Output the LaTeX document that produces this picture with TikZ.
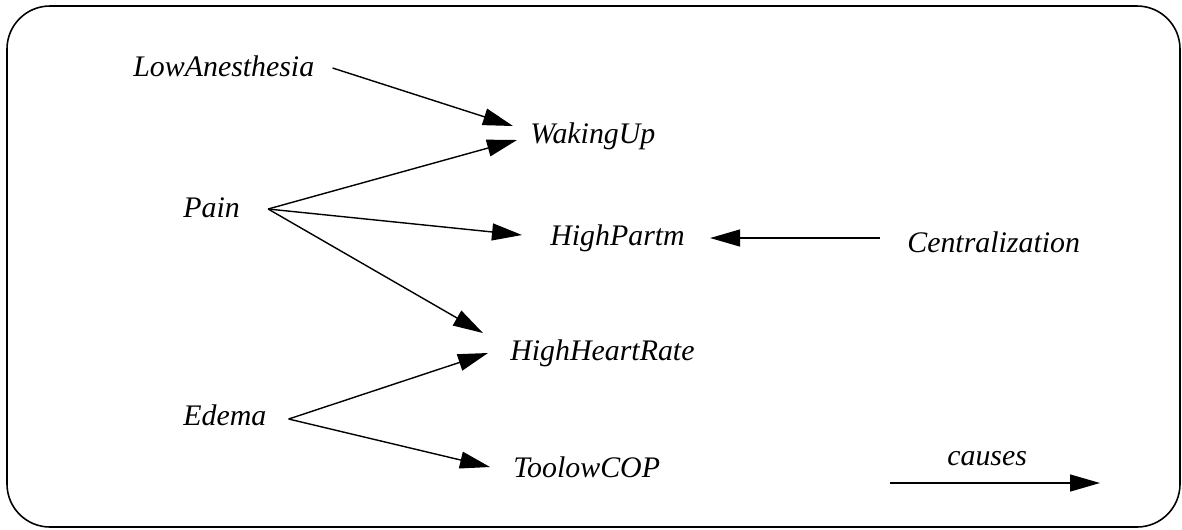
\documentclass[tikz,border=0pt]{standalone}
\usepackage{fontspec}
\setmainfont{Liberation Serif}
\usepackage{tikz}
\usetikzlibrary{arrows.meta}

\begin{document}
\begin{tikzpicture}[
    x=0.02cm, y=-0.02cm,
    label/.style={
        anchor=base west,
        inner sep=0pt,
        font=\fontsize{17}{20}\selectfont\itshape
    },
    frame/.style={draw, line width=0.9pt, rounded corners=0.86cm},
    causearrow/.style={-{Triangle[length=6mm, width=3.4mm]}, line width=0.8pt}
]
    \useasboundingbox (0,0) rectangle (1182,529);
    \draw[frame] (7,6) rectangle (1180,527);

    \node[label] (lowanesthesia) at (133,76) {LowAnesthesia};
    \node[label] (wakingup) at (530,143) {WakingUp};
    \node[label] (pain) at (183,217) {Pain};
    \node[label] (highpartm) at (550,245) {HighPartm};
    \node[label] (centralization) at (907,252) {Centralization};
    \node[label] (highheartrate) at (510,360) {HighHeartRate};
    \node[label] (edema) at (183,425) {Edema};
    \node[label] (toolowcop) at (513,477) {ToolowCOP};
    \node[label] (causes) at (947,465) {causes};

    \draw[causearrow] ([shift={(18,-8)}]lowanesthesia.base east)
        -- ([shift={(-17,-17)}]wakingup.base west);
    \draw[causearrow] ([shift={(28,-8)}]pain.base east)
        -- ([shift={(-13,-3)}]wakingup.base west);
    \draw[causearrow] ([shift={(28,-8)}]pain.base east)
        -- ([shift={(-28,-10)}]highpartm.base west);
    \draw[causearrow] ([shift={(28,-8)}]pain.base east)
        -- ([shift={(-27,-27)}]highheartrate.base west);
    \draw[causearrow] ([shift={(-27,-14)}]centralization.base west)
        -- ([shift={(25,-7)}]highpartm.base east);
    \draw[causearrow] ([shift={(22,-6)}]edema.base east)
        -- ([shift={(-22,-7)}]highheartrate.base west);
    \draw[causearrow] ([shift={(22,-6)}]edema.base east)
        -- ([shift={(-23,-10)}]toolowcop.base west);

    % legend
    \coordinate (legendstart) at (890,483);
    \coordinate (legendend) at (1100,483);
    \draw[causearrow] (legendstart) -- (legendend);
\end{tikzpicture}
\end{document}
